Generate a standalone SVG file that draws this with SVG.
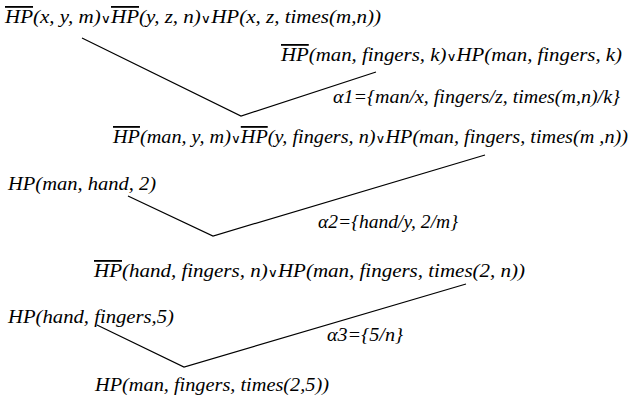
<svg xmlns="http://www.w3.org/2000/svg" width="634" height="402" viewBox="0 0 634 402">
<style>
.t{font-family:"Liberation Serif","Times New Roman",serif;font-style:italic;font-size:18px;fill:#000}
.o{text-decoration:overline}
.v{font-family:"DejaVu Serif",serif;font-style:normal;font-size:12px}
.c{fill:none;stroke:#000;stroke-width:1.2}
</style>
<rect width="634" height="402" fill="#fff"/>
<g id="connectors">
<polyline class="c" points="82,38 241,116 376,72"/>
<polyline class="c" points="128,196 213,236 485,155"/>
<polyline class="c" points="97,325 184,367 466,284"/>
</g>
<g id="clause1"><text class="t" x="5" y="23" textLength="376" lengthAdjust="spacingAndGlyphs"><tspan class="o">HP</tspan>(x, y, m)<tspan class="v">∨</tspan><tspan class="o">HP</tspan>(y, z, n)<tspan class="v">∨</tspan>HP(x, z, times(m,n))</text></g>
<g id="clause2"><text class="t" x="281" y="61" textLength="341" lengthAdjust="spacingAndGlyphs"><tspan class="o">HP</tspan>(man, fingers, k)<tspan class="v">∨</tspan>HP(man, fingers, k)</text></g>
<g id="subst1"><text class="t" x="333" y="103" textLength="287" lengthAdjust="spacingAndGlyphs">α1={man/x, fingers/z, times(m,n)/k}</text></g>
<g id="clause3"><text class="t" x="113" y="143" textLength="515" lengthAdjust="spacingAndGlyphs"><tspan class="o">HP</tspan>(man, y, m)<tspan class="v">∨</tspan><tspan class="o">HP</tspan>(y, fingers, n)<tspan class="v">∨</tspan>HP(man, fingers, times(m ,n))</text></g>
<g id="clause4"><text class="t" x="8" y="190" textLength="148" lengthAdjust="spacingAndGlyphs">HP(man, hand, 2)</text></g>
<g id="subst2"><text class="t" x="318" y="228" textLength="140" lengthAdjust="spacingAndGlyphs">α2={hand/y, 2/m}</text></g>
<g id="clause5"><text class="t" x="94" y="277" textLength="431" lengthAdjust="spacingAndGlyphs"><tspan class="o">HP</tspan>(hand, fingers, n)<tspan class="v">∨</tspan>HP(man, fingers, times(2, n))</text></g>
<g id="clause6"><text class="t" x="8" y="323" textLength="166" lengthAdjust="spacingAndGlyphs">HP(hand, fingers,5)</text></g>
<g id="subst3"><text class="t" x="327" y="341" textLength="76" lengthAdjust="spacingAndGlyphs">α3={5/n}</text></g>
<g id="clause7"><text class="t" x="95" y="391" textLength="234" lengthAdjust="spacingAndGlyphs">HP(man, fingers, times(2,5))</text></g>
</svg>
